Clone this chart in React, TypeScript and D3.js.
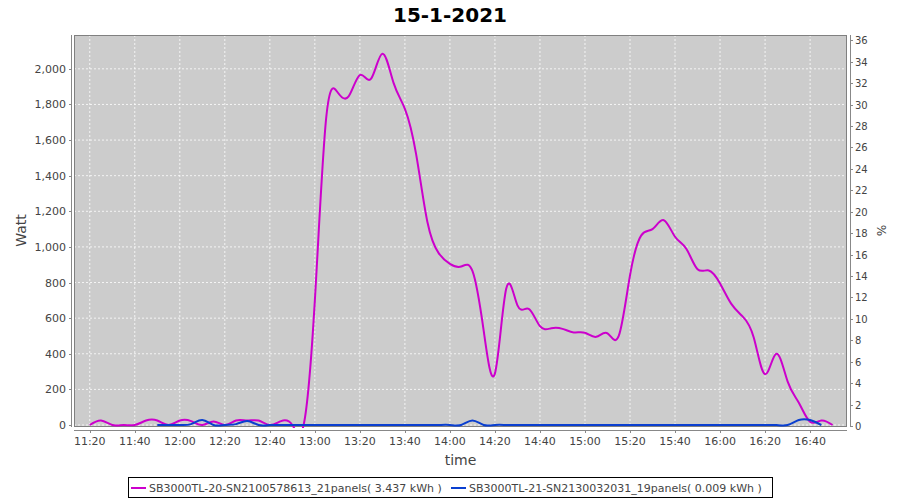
import React from "react";
import * as d3 from "d3";

const title = "15-1-2021";
const times = [
  "11:20","11:25","11:30","11:35","11:40","11:45","11:50","11:55",
  "12:00","12:05","12:10","12:15","12:20","12:25","12:30","12:35","12:40","12:45","12:50","12:55",
  "13:00","13:05","13:10","13:15","13:20","13:25","13:30","13:35","13:40","13:45","13:50","13:55",
  "14:00","14:05","14:10","14:15","14:20","14:25","14:30","14:35","14:40","14:45","14:50","14:55",
  "15:00","15:05","15:10","15:15","15:20","15:25","15:30","15:35","15:40","15:45","15:50","15:55",
  "16:00","16:05","16:10","16:15","16:20","16:25","16:30","16:35","16:40","16:45","16:50",
];
const series1Name = "SB3000TL-20-SN2100578613_21panels( 3.437 kWh )";
const series1 = [
  0, 25, 0, 0, 0, 25, 25, 0,
  25, 22, 0, 20, 0, 25, 25, 25, 0, 22, 0, 0,
  700, 1720, 1870, 1845, 1965, 1945, 2085, 1920, 1775, 1520, 1140, 965,
  905, 890, 865, 530, 290, 765, 672, 652, 555, 543, 540, 520,
  518, 495, 515, 500, 840, 1065, 1100, 1150, 1057, 990, 875, 868,
  795, 680, 610, 490, 285, 400, 245, 125, 18, 25, 0,
];
const series2Name = "SB3000TL-21-SN2130032031_19panels( 0.009 kWh )";
const series2: (number | null)[] = [
  null, null, null, null, null, null, 0, 0,
  0, 5, 28, 0, 0, 5, 22, 0, 0, 0, 0, 0,
  0, 0, 0, 0, 0, 0, 0, 0, 0, 0, 0, 0,
  0, 0, 25, 0, 0, 0, 0, 0, 0, 0, 0, 0,
  0, 0, 0, 0, 0, 0, 0, 0, 0, 0, 0, 0,
  0, 0, 0, 0, 0, 0, 0, 28, 28, 0, null,
];
const xTicks = ["11:20","11:40","12:00","12:20","12:40","13:00","13:20","13:40","14:00","14:20","14:40","15:00","15:20","15:40","16:00","16:20","16:40"];
const yTicks = [0, 200, 400, 600, 800, 1000, 1200, 1400, 1600, 1800, 2000];
const y2Ticks = [0, 2, 4, 6, 8, 10, 12, 14, 16, 18, 20, 22, 24, 26, 28, 30, 32, 34, 36];

const toMin = (t: string) => {
  const [h, m] = t.split(":").map(Number);
  return h * 60 + m;
};

const W = 900, H = 500;
const L = 74, R = 847, T = 35, B = 426;
const FONT = "DejaVu Sans, sans-serif";
const C1 = "#cc00cc";
const C2 = "#0a3fd0";

export default function App() {
  const x = d3.scaleLinear().domain([toMin("11:20") - 7, toMin("16:40") + 16.4]).range([L, R]);
  const y = d3.scaleLinear().domain([0, 2190]).range([B - 1, T]);
  const y2 = d3.scaleLinear().domain([0, 36.5]).range([B, T]);

  const pts1 = times.map((t, i) => [x(toMin(t)), y(series1[i])] as [number, number]);
  const pts2 = times
    .map((t, i) => (series2[i] === null ? null : ([x(toMin(t)), y(series2[i] as number)] as [number, number])))
    .filter((p): p is [number, number] => p !== null);
  const line = d3.line<[number, number]>().curve(d3.curveNatural);

  const axisX = L - 3;
  const axisY = B + 4;
  const axisX2 = R + 3;

  return (
    <svg width={W} height={H} style={{ position: "absolute", left: 0, top: 0, fontFamily: FONT }}>
      <rect x={0} y={0} width={W} height={H} fill="#ffffff" />
      <text x={W / 2} y={22} textAnchor="middle" fontSize={20} fontWeight="bold" fill="#000">{title}</text>
      <defs>
        <clipPath id="plotclip">
          <rect x={L} y={T} width={R - L} height={B - T + 2} />
        </clipPath>
      </defs>
      <rect x={L} y={T} width={R - L} height={B - T + 1} fill="#cccccc" />
      {xTicks.map((t) => (
        <line key={"gx" + t} x1={x(toMin(t))} x2={x(toMin(t))} y1={T} y2={B + 1} stroke="#ffffff" strokeWidth={1} strokeDasharray="2,2" opacity={0.8} />
      ))}
      {yTicks.map((v) => (
        <line key={"gy" + v} x1={L} x2={R} y1={y(v)} y2={y(v)} stroke="#ffffff" strokeWidth={1} strokeDasharray="2,2" opacity={0.8} />
      ))}
      <rect x={L + 0.5} y={T + 0.5} width={R - L - 1} height={B - T} fill="none" stroke="#808080" strokeWidth={1} />
      <g clipPath="url(#plotclip)">
        <path d={line(pts1) || ""} fill="none" stroke={C1} strokeWidth={2} />
        <path d={line(pts2) || ""} fill="none" stroke={C2} strokeWidth={2} />
      </g>

      {/* left axis */}
      <line x1={axisX + 0.5} x2={axisX + 0.5} y1={T} y2={B + 1} stroke="#888" />
      {yTicks.map((v) => (
        <g key={"yt" + v}>
          <line x1={axisX - 2} x2={axisX} y1={Math.round(y(v)) + 0.5} y2={Math.round(y(v)) + 0.5} stroke="#888" />
          <text x={axisX - 5} y={y(v) + 4} textAnchor="end" fontSize={11} fill="#444">{d3.format(",")(v)}</text>
        </g>
      ))}
      <text transform={`translate(26,${(T + B) / 2}) rotate(-90)`} textAnchor="middle" fontSize={14} fill="#444">Watt</text>

      {/* bottom axis */}
      <line x1={L} x2={R} y1={axisY + 0.5} y2={axisY + 0.5} stroke="#888" />
      {xTicks.map((t) => (
        <g key={"xt" + t}>
          <line x1={Math.round(x(toMin(t))) + 0.5} x2={Math.round(x(toMin(t))) + 0.5} y1={axisY} y2={axisY + 3} stroke="#888" />
          <text x={x(toMin(t))} y={axisY + 15} textAnchor="middle" fontSize={11} fill="#444">{t}</text>
        </g>
      ))}
      <text x={(L + R) / 2} y={465} textAnchor="middle" fontSize={14} fill="#444">time</text>

      {/* right axis */}
      <line x1={axisX2 + 0.5} x2={axisX2 + 0.5} y1={T} y2={B + 1} stroke="#888" />
      {y2Ticks.map((v) => (
        <g key={"y2t" + v}>
          <line x1={axisX2} x2={axisX2 + 3} y1={Math.round(y2(v)) + 0.5} y2={Math.round(y2(v)) + 0.5} stroke="#888" />
          <text x={axisX2 + 5} y={y2(v) + 4} textAnchor="start" fontSize={10} fill="#444">{v}</text>
        </g>
      ))}
      <text transform={`translate(877,${(T + B) / 2}) rotate(90)`} textAnchor="middle" fontSize={12} fill="#444">%</text>

      {/* legend */}
      <rect x={128.5} y={477.5} width={644} height={20} fill="#fff" stroke="#000" strokeWidth={1} />
      <line x1={131} x2={146} y1={488} y2={488} stroke={C1} strokeWidth={2} />
      <text x={149} y={492} fontSize={11} fill="#444">{series1Name}</text>
      <line x1={451} x2={466} y1={488} y2={488} stroke={C2} strokeWidth={2} />
      <text x={469} y={492} fontSize={11} fill="#444">{series2Name}</text>
    </svg>
  );
}
